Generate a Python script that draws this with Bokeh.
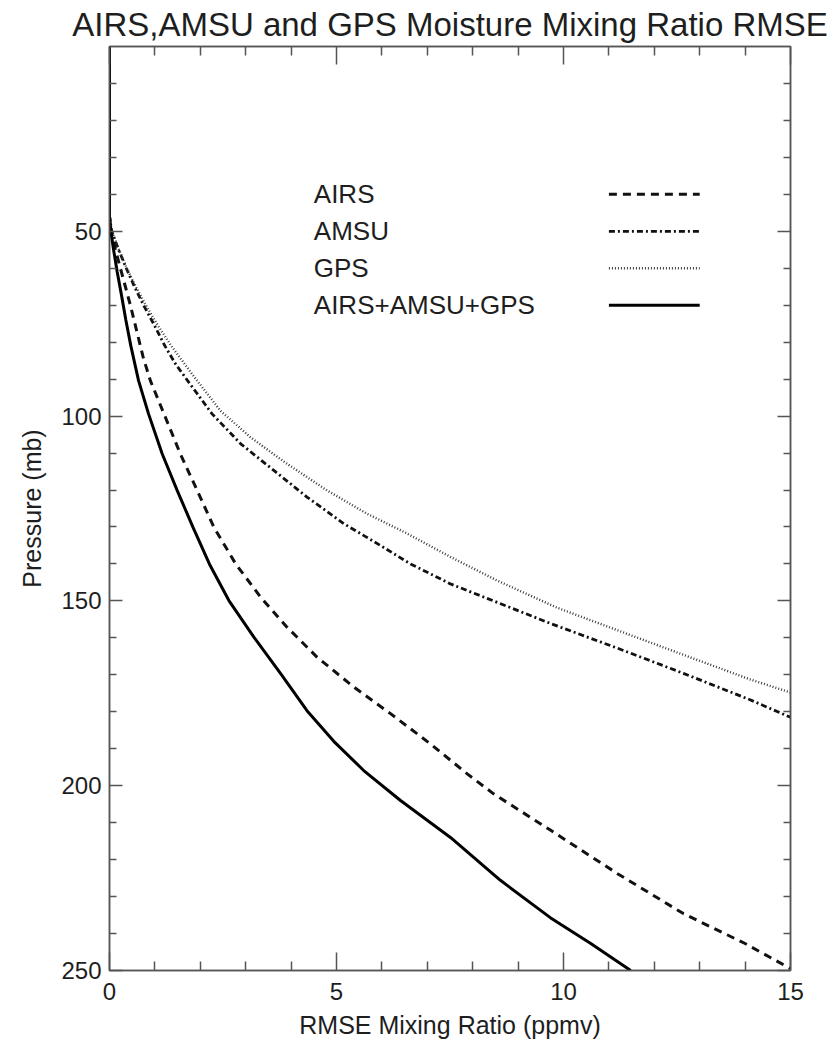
from bokeh.plotting import figure
from bokeh.models import Range1d, LinearAxis, FixedTicker
from bokeh.core.properties import value
from bokeh.embed import file_html
from bokeh.resources import INLINE

# ---------------- data (pressure in mb, RMSE in ppmv) ----------------
airs_p = [0, 46, 50, 55, 60, 65, 70, 77, 84, 90.4, 99.4, 110.2, 120.1, 130.1, 140, 149, 157.1, 165.2, 173.3, 180.5, 188.7, 196.8, 202.2, 212, 223.8, 234.6, 242.7, 249.5]
airs_x = [0, 0, 0.04, 0.13, 0.24, 0.35, 0.46, 0.6, 0.74, 0.9, 1.2, 1.56, 1.93, 2.3, 2.78, 3.33, 3.91, 4.57, 5.38, 6.19, 7.07, 7.88, 8.46, 9.71, 11.19, 12.64, 14.0, 15.0]

amsu_p = [0, 46, 50, 55, 60, 65, 70, 75, 81, 86, 90.4, 99.4, 107.5, 114.7, 121.9, 129.1, 134.5, 140, 145.4, 150.4, 156.1, 162.8, 169.6, 176.8, 181.5]
amsu_x = [0, 0, 0.05, 0.2, 0.37, 0.55, 0.75, 0.97, 1.22, 1.46, 1.72, 2.26, 2.89, 3.62, 4.35, 5.16, 5.9, 6.63, 7.51, 8.54, 9.71, 11.19, 12.64, 14.12, 15.0]

gps_p = [0, 46, 50, 55, 60, 65, 70, 75, 81, 87, 90.4, 98.5, 105.7, 112.9, 120.1, 126.4, 131.8, 138.1, 144.5, 151.8, 158, 164.4, 171.2, 174.8]
gps_x = [0, 0, 0.05, 0.21, 0.38, 0.58, 0.8, 1.04, 1.36, 1.72, 1.93, 2.44, 3.1, 3.91, 4.79, 5.67, 6.56, 7.51, 8.54, 9.85, 11.2, 12.6, 14.1, 15.0]

all_p = [0, 46, 50, 55, 61, 67, 74, 81, 90.4, 99.4, 110.2, 120.1, 130.1, 140, 149.9, 159.8, 169.7, 179.7, 188, 195.9, 204, 214, 225.6, 235.7, 242.7, 250]
all_x = [0, 0, 0.03, 0.09, 0.17, 0.26, 0.36, 0.47, 0.64, 0.86, 1.16, 1.49, 1.84, 2.2, 2.63, 3.18, 3.77, 4.35, 4.94, 5.6, 6.41, 7.51, 8.61, 9.71, 10.6, 11.48]

series_names = ["AIRS", "AMSU", "GPS", "AIRS+AMSU+GPS"]
x_major = [0, 5, 10, 15]
x_minor = [1, 2, 3, 4, 6, 7, 8, 9, 11, 12, 13, 14]
y_major = [50, 100, 150, 200, 250]
y_minor = [10, 20, 30, 40, 60, 70, 80, 90, 110, 120, 130, 140, 160, 170, 180, 190, 210, 220, 230, 240]

# legend placement (data units)
legend_text_x = 4.5
legend_line_x = [11.0, 13.0]
legend_y = [40, 50, 60, 70]

FONT = "Liberation Sans"
TXT = "#1e1e1e"
AX = "#555555"

styles = [
    dict(line_color="#111111", line_width=3, line_dash="8 6"),
    dict(line_color="#111111", line_width=2.8, line_dash="6 3 2 3"),
    dict(line_color="#3a3a3a", line_width=2.4, line_dash="1 2"),
    dict(line_color="#000000", line_width=3),
]

p = figure(width=836, height=1042, x_range=Range1d(0, 15), y_range=Range1d(250, 0),
           output_backend="svg", toolbar_location=None,
           min_border_left=109, min_border_right=46, min_border_top=46, min_border_bottom=72)

p.title.text = "AIRS,AMSU and GPS Moisture Mixing Ratio RMSE"
p.title.text_font = FONT
p.title.text_font_size = "33px"
p.title.text_font_style = "normal"
p.title.text_color = TXT
p.title.align = "center"
p.title.standoff = 7

p.xgrid.visible = False
p.ygrid.visible = False
p.outline_line_color = AX
p.outline_line_width = 1.5
p.background_fill_color = "white"
p.border_fill_color = "white"

def style_axis(ax, major_len, minor_len, labels=True):
    ax.axis_line_color = AX
    ax.axis_line_width = 1.5
    ax.major_tick_line_color = AX
    ax.minor_tick_line_color = AX
    ax.major_tick_line_width = 1.5
    ax.minor_tick_line_width = 1.5
    ax.major_tick_in = major_len
    ax.major_tick_out = 0
    ax.minor_tick_in = minor_len
    ax.minor_tick_out = 0
    ax.major_label_text_font = FONT
    ax.major_label_text_color = TXT
    ax.axis_label_text_font = FONT
    ax.axis_label_text_color = TXT
    ax.axis_label_text_font_style = "normal"
    if not labels:
        ax.major_label_text_color = None
        ax.major_label_text_font_size = "1px"
        ax.major_label_standoff = 0

xb = p.xaxis[0]
xb.ticker = FixedTicker(ticks=x_major, minor_ticks=x_minor)
style_axis(xb, 18, 9)
xb.major_label_text_font_size = "24px"
xb.major_label_standoff = 12
xb.axis_label = "RMSE Mixing Ratio (ppmv)"
xb.axis_label_text_font_size = "25px"
xb.axis_label_standoff = 8

yl = p.yaxis[0]
yl.ticker = FixedTicker(ticks=y_major, minor_ticks=y_minor)
style_axis(yl, 13, 7)
yl.major_label_text_font_size = "24px"
yl.major_label_standoff = 8
yl.axis_label = "Pressure (mb)"
yl.axis_label_text_font_size = "25px"
yl.axis_label_standoff = 12

xt = LinearAxis(ticker=FixedTicker(ticks=x_major, minor_ticks=x_minor))
style_axis(xt, 18, 9, labels=False)
p.add_layout(xt, "above")

yr = LinearAxis(ticker=FixedTicker(ticks=y_major, minor_ticks=y_minor))
style_axis(yr, 13, 7, labels=False)
p.add_layout(yr, "right")

# curves
data = [(airs_x, airs_p), (amsu_x, amsu_p), (gps_x, gps_p), (all_x, all_p)]
for (xs, ps), st in zip(data, styles):
    p.line(xs, ps, **st)

# legend (text on left, sample line on right)
p.text(x=[legend_text_x] * len(series_names), y=legend_y, text=series_names,
       text_font=value(FONT), text_font_size="26px", text_color=TXT,
       text_align="left", text_baseline="alphabetic")
for ly, st in zip(legend_y, styles):
    p.line(legend_line_x, [ly, ly], **st)

open("out.html", "w").write(file_html(p, INLINE))
